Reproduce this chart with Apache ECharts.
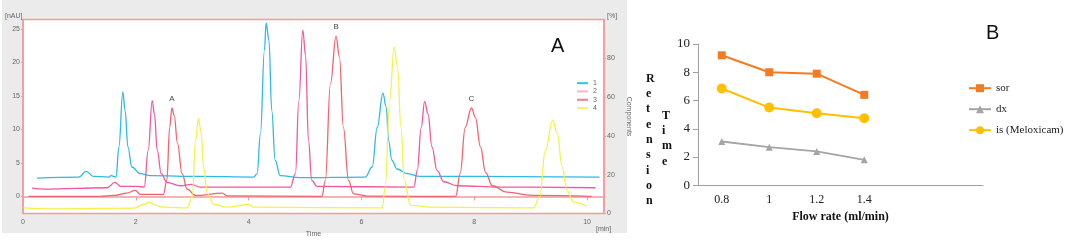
<!DOCTYPE html>
<html>
<head>
<meta charset="utf-8">
<script src="https://cdn.jsdelivr.net/npm/echarts@6/dist/echarts.min.js"></script>
<style>
  html, body { margin: 0; padding: 0; background: #fff; }
  #main { width: 1065px; height: 240px; }
</style>
</head>
<body>
<div id="main"></div>
<script>
// ---- Panel A: chromatogram traces, [time (min), absorbance (nAU)] ----
var trace1 = [
  [0.25, 2.74], [0.99, 2.9], [1.12, 3.73], [1.25, 3.0], [1.52, 2.9], [1.56, 3.1], [1.65, 2.9],
  [1.70, 7.4], [1.77, 15.6], [1.81, 12.8], [1.86, 7.4], [1.93, 4.4], [2.08, 3.4], [2.26, 3.1],
  [3.14, 3.0], [4.09, 2.9], [4.15, 3.4], [4.21, 9.4], [4.28, 21.8], [4.31, 25.9], [4.36, 23.3],
  [4.41, 12.8], [4.47, 5.4], [4.56, 3.1], [4.92, 2.8], [6.07, 2.9], [6.19, 4.4], [6.28, 10.3],
  [6.38, 15.4], [6.44, 13.3], [6.48, 8.4], [6.54, 5.4], [6.63, 4.1], [6.81, 3.4], [7.04, 3.0],
  [10.22, 2.9]
];
var trace2 = [
  [0.16, 1.24], [0.37, 1.1], [1.49, 1.3], [1.63, 2.1], [1.73, 1.5], [2.02, 1.5], [2.15, 1.4],
  [2.22, 6.9], [2.29, 14.3], [2.33, 12.3], [2.38, 6.9], [2.45, 3.4], [2.55, 2.1], [2.79, 1.6],
  [2.98, 1.8], [3.14, 1.4], [4.74, 1.4], [4.83, 3.4], [4.89, 14.3], [4.96, 24.8], [5.01, 21.0],
  [5.06, 8.4], [5.12, 2.4], [5.21, 1.5], [6.93, 1.4], [6.99, 3.9], [7.06, 10.3], [7.12, 14.2],
  [7.18, 12.3], [7.25, 7.4], [7.34, 3.9], [7.46, 2.2], [7.70, 1.6], [8.46, 1.4], [10.15, 1.3]
];
var trace3 = [
  [0.10, 0], [1.37, 0], [1.61, 0.15], [1.84, 0.5], [1.99, 0.9], [2.08, 0.3], [2.49, 0.3],
  [2.55, 2.4], [2.60, 10.3], [2.64, 13.2], [2.68, 12.1], [2.74, 7.9], [2.82, 3.4], [2.91, 1.1],
  [3.06, 0.15], [3.53, 0.5], [3.62, 0.1], [5.30, 0], [5.36, 2.4], [5.45, 16.8], [5.55, 23.9],
  [5.61, 20.8], [5.68, 10.3], [5.77, 2.4], [5.86, 0.4], [6.10, 0.05], [7.67, 0], [7.75, 3.4],
  [7.84, 10.3], [7.95, 13.2], [8.02, 11.8], [8.11, 7.4], [8.20, 3.6], [8.32, 1.6], [8.58, 0.65],
  [9.05, 0.15], [10.08, 0]
];
var trace4 = [
  [0.01, -1.7], [0.60, -1.84], [1.96, -1.74], [2.14, -1.2], [2.24, -0.85], [2.35, -1.34],
  [2.49, -1.6], [2.91, -1.7], [3.00, -0.1], [3.06, 8.4], [3.11, 11.6], [3.16, 9.4], [3.20, 4.4],
  [3.27, 0.4], [3.38, -1.2], [3.62, -1.6], [4.00, -1.2], [4.09, -1.6], [6.37, -1.7], [6.42, 1.4],
  [6.50, 14.3], [6.58, 22.3], [6.64, 19.3], [6.70, 10.3], [6.76, 2.4], [6.87, -1.34], [7.28, -1.6],
  [9.05, -1.7], [9.16, -0.1], [9.26, 6.9], [9.39, 11.4], [9.47, 9.4], [9.56, 4.4], [9.64, 0.9],
  [9.76, -0.85], [9.99, -1.45]
];
var traceNames = ['1', '2', '3', '4'];
var peakLabels = [['A', 2.64, 13.2], ['B', 5.55, 23.9], ['C', 7.95, 13.2]];
var timeTicks = [0, 2, 4, 6, 8, 10];
var absTicks = [0, 5, 10, 15, 20, 25];
var compTicks = [0, 20, 40, 60, 80];

// ---- Panel B: retention time vs flow rate ----
var flowRates = ['0.8', '1', '1.2', '1.4', '', ''];
var sor = [9.2, 8.0, 7.9, 6.4];
var dx = [3.1, 2.7, 2.4, 1.8];
var isMeloxicam = [6.85, 5.5, 5.1, 4.75];

var chart = echarts.init(document.getElementById('main'), null, { renderer: 'canvas' });

var frameRed = '#f59a9a';
var smallLabel = { color: '#666', fontSize: 7, fontFamily: 'Liberation Sans' };
var serif = 'Liberation Serif';

var traceColors = ['#2fb9e3', '#f0589f', '#f2636f', '#f3f24a'];
var legendColors = ['#2fc4ea', '#ffb3c9', '#f27b93', '#f7f36a'];
var traces = [trace1, trace2, trace3, trace4];

var seriesA = traces.map(function (d, i) {
  var s = {
    name: traceNames[i],
    type: 'line',
    xAxisIndex: 0,
    yAxisIndex: 0,
    data: d,
    symbol: 'none',
    smooth: 0.4,
    smoothMonotone: 'x',
    lineStyle: { width: 1.3, color: traceColors[i] },
    itemStyle: { color: traceColors[i] },
    z: 3
  };
  if (i === 2) {
    s.markPoint = {
      symbol: 'circle',
      symbolSize: 0,
      label: { show: true, position: 'top', distance: 5, color: '#444', fontSize: 8, fontFamily: 'Liberation Sans',
        formatter: function (p) { return p.name; } },
      data: peakLabels.map(function (p) { return { name: p[0], coord: [p[1], p[2]] }; })
    };
  }
  return s;
});

var option = {
  animation: false,
  backgroundColor: '#ffffff',
  graphic: [
    { type: 'rect', z: -10, shape: { x: 2, y: 0, width: 625, height: 233 }, style: { fill: '#ebebeb' } },
    { type: 'text', left: 5, top: 13, style: { text: '[nAU]', fill: '#666', font: '7px Liberation Sans' } },
    { type: 'text', left: 607, top: 13, style: { text: '[%]', fill: '#666', font: '7px Liberation Sans' } },
    { type: 'text', left: 596, top: 226, style: { text: '[min]', fill: '#666', font: '7px Liberation Sans' } },
    { type: 'text', left: 551, top: 36, style: { text: 'A', fill: '#111', font: '20px Liberation Sans' } },
    { type: 'text', left: 986, top: 23, style: { text: 'B', fill: '#111', font: '20px Liberation Sans' } },
    { type: 'text', left: 646, top: 71, style: { text: 'R\ne\nt\ne\nn\ns\ni\no\nn', fill: '#111',
      font: 'bold 12px Liberation Serif', lineHeight: 15.3, align: 'center' } },
    { type: 'text', left: 662, top: 108, style: { text: 'T\ni\nm\ne', fill: '#111',
      font: 'bold 12px Liberation Serif', lineHeight: 15.3, align: 'center' } }
  ],
  legend: [
    {
      data: traceNames.map(function (n, i) {
        return { name: n, icon: 'rect', itemStyle: { color: legendColors[i] } };
      }),
      orient: 'vertical',
      left: 572,
      top: 74,
      itemWidth: 11,
      itemHeight: 2,
      itemGap: 0,
      textStyle: { color: '#666', fontSize: 7, lineHeight: 8.3, fontFamily: 'Liberation Sans' }
    },
    {
      data: ['sor', 'dx', 'is (Meloxicam)'],
      orient: 'vertical',
      left: 963,
      top: 77.7,
      itemWidth: 22,
      itemHeight: 10,
      itemGap: 10,
      textStyle: { color: '#222', fontSize: 11, fontFamily: serif }
    }
  ],
  grid: [
    { left: 23, top: 19.5, width: 581, height: 194, show: true, backgroundColor: '#ffffff',
      borderColor: frameRed, borderWidth: 1.5, outerBoundsMode: 'none' },
    { left: 698, top: 44, width: 285, height: 141.3, outerBoundsMode: 'none' }
  ],
  xAxis: [
    {
      gridIndex: 0, type: 'value', min: 0, max: 10.3,
      name: 'Time', nameLocation: 'middle', nameGap: 15,
      nameTextStyle: { color: '#666', fontSize: 7, fontFamily: 'Liberation Sans' },
      axisLine: { lineStyle: { color: frameRed, width: 1.5 } },
      axisTick: { length: 4, lineStyle: { color: frameRed }, customValues: timeTicks },
      axisLabel: Object.assign({ margin: 5, customValues: timeTicks }, smallLabel),
      splitLine: { show: false }
    },
    {
      gridIndex: 1, type: 'category', data: flowRates, boundaryGap: true,
      name: 'Flow rate (ml/min)', nameLocation: 'middle', nameGap: 25,
      nameTextStyle: { color: '#111', fontSize: 12, fontWeight: 'bold', fontFamily: serif },
      axisLine: { lineStyle: { color: '#a0a0a0' } },
      axisTick: { length: 5, lineStyle: { color: '#a0a0a0' } },
      axisLabel: { color: '#222', fontSize: 12, fontFamily: serif, margin: 9 }
    }
  ],
  yAxis: [
    {
      gridIndex: 0, type: 'value', min: -2.54, max: 26.4,
      name: 'Absorbance', nameLocation: 'middle', nameGap: 14,
      nameTextStyle: { color: '#666', fontSize: 7, fontFamily: 'Liberation Sans' },
      axisLine: { show: true, lineStyle: { color: frameRed, width: 1.5 } },
      axisTick: { show: true, length: 2, lineStyle: { color: frameRed }, customValues: absTicks },
      axisLabel: Object.assign({ margin: 3, customValues: absTicks }, smallLabel),
      splitLine: { show: false }
    },
    {
      gridIndex: 0, type: 'value', min: 0, max: 100, position: 'right',
      name: 'Components', nameLocation: 'middle', nameGap: 15, nameRotate: -90,
      nameTextStyle: { color: '#666', fontSize: 7, fontFamily: 'Liberation Sans' },
      axisLine: { show: true, lineStyle: { color: frameRed, width: 1.5 } },
      axisTick: { show: true, length: 2, lineStyle: { color: frameRed }, customValues: compTicks },
      axisLabel: Object.assign({ margin: 3, customValues: compTicks }, smallLabel),
      splitLine: { show: false }
    },
    {
      gridIndex: 1, type: 'value', min: 0, max: 10, interval: 2,
      axisLine: { show: true, lineStyle: { color: '#a0a0a0' } },
      axisTick: { show: true, length: 5, lineStyle: { color: '#a0a0a0' } },
      axisLabel: { color: '#222', fontSize: 13, fontFamily: serif, margin: 8 },
      splitLine: { show: false }
    }
  ],
  series: seriesA.concat([
    {
      name: 'sor', type: 'line', xAxisIndex: 1, yAxisIndex: 2, data: sor,
      symbol: 'rect', symbolSize: 8,
      lineStyle: { width: 2, color: '#f47b20' }, itemStyle: { color: '#f47b20' }
    },
    {
      name: 'dx', type: 'line', xAxisIndex: 1, yAxisIndex: 2, data: dx,
      symbol: 'triangle', symbolSize: 7,
      lineStyle: { width: 1.8, color: '#a5a5a5' }, itemStyle: { color: '#a5a5a5' }
    },
    {
      name: 'is (Meloxicam)', type: 'line', xAxisIndex: 1, yAxisIndex: 2, data: isMeloxicam,
      symbol: 'circle', symbolSize: 10,
      lineStyle: { width: 2, color: '#ffc000' }, itemStyle: { color: '#ffc000' }
    }
  ])
};

chart.setOption(option);
</script>
</body>
</html>
